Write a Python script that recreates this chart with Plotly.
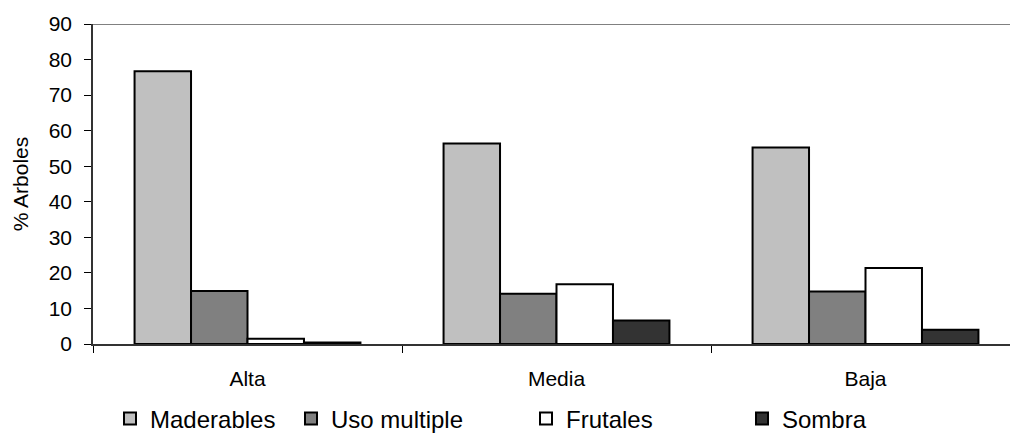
import plotly.graph_objects as go

# Tree use share (% of trees) by management intensity
categories = ["Alta", "Media", "Baja"]
maderables = [76.7, 56.4, 55.3]
uso_multiple = [14.9, 14.1, 14.8]
frutales = [1.5, 16.8, 21.4]
sombra = [0.4, 6.6, 4.0]

series_names = ["Maderables", "Uso multiple", "Frutales", "Sombra"]
series_values = [maderables, uso_multiple, frutales, sombra]
series_colors = ["#C0C0C0", "#808080", "#FFFFFF", "#333333"]
legend_ids = ["legend", "legend2", "legend3", "legend4"]
legend_x_px = [110, 291, 526, 742]

FONT = "Liberation Sans, Arial, sans-serif"
W, H = 1010, 434

fig = go.Figure()
for name, vals, color, lg in zip(series_names, series_values, series_colors, legend_ids):
    fig.add_trace(go.Bar(
        x=categories, y=vals, name=name,
        marker=dict(color=color, line=dict(color="black", width=2)),
        legend=lg, showlegend=True,
    ))

layout_legends = {}
for lg, px in zip(legend_ids, legend_x_px):
    layout_legends[lg] = dict(
        orientation="h", xref="container", yref="container",
        x=px / W, y=1 - 419 / H, xanchor="left", yanchor="middle",
        font=dict(family=FONT, size=24, color="black"),
        bgcolor="rgba(0,0,0,0)", borderwidth=0,
    )

fig.update_layout(
    width=W, height=H,
    margin=dict(l=93, r=0, t=24, b=90),
    paper_bgcolor="white", plot_bgcolor="white",
    barmode="group", bargap=0.269, bargroupgap=0,
    font=dict(family=FONT, color="black"),
    showlegend=True,
    **layout_legends,
)

fig.update_xaxes(
    range=[-0.5, -0.5 + 917 / 309],
    tickson="boundaries", ticks="outside", ticklen=7, tickcolor="black", tickwidth=1,
    showline=True, linecolor="#333333", linewidth=1.5,
    showgrid=False, zeroline=False,
    tickfont=dict(family=FONT, size=21, color="black"),
    ticklabelstandoff=15,
)

fig.update_yaxes(
    range=[0, 90], dtick=10,
    ticks="outside", ticklen=7, tickcolor="black", tickwidth=1,
    showline=True, linecolor="#333333", linewidth=1.5,
    showgrid=False, zeroline=False,
    tickfont=dict(family=FONT, size=21, color="black"),
    ticklabelstandoff=8,
    title=dict(text="% Arboles", font=dict(family=FONT, size=21, color="black"), standoff=14),
)

# Plot-area top border at the 90 line
fig.add_shape(type="line", xref="paper", yref="y", x0=0, x1=1, y0=90, y1=90,
              line=dict(color="#808080", width=2))

fig.write_html("out.html")
